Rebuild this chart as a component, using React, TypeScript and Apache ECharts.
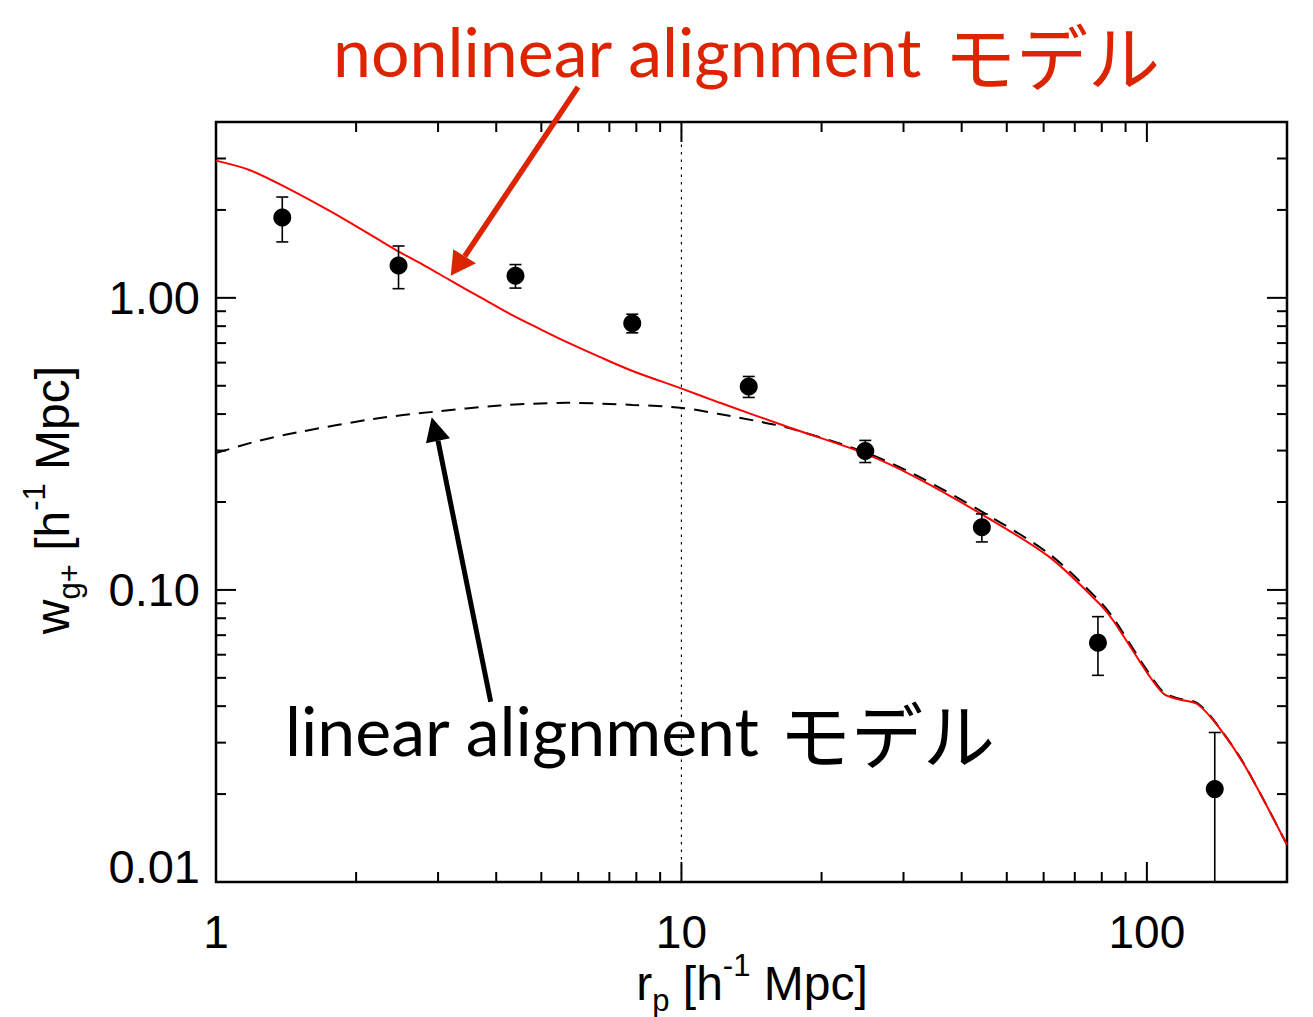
import React, { useEffect, useRef } from "react";
import * as echarts from "echarts";

// Measured projected correlation w_g+ (r_p) with 1-sigma errors
const pointR = [1.388, 2.467, 4.4, 7.84, 13.95, 24.83, 44.2, 78.5, 139.9];
const pointW = [1.884, 1.29, 1.19, 0.819, 0.497, 0.299, 0.164, 0.066, 0.0208];
const pointErr = [0.33, 0.215, 0.11, 0.06, 0.041, 0.026, 0.018, 0.015, 0.0117];

// Nonlinear alignment model curve
const nlaR = [1, 1.18, 1.42, 1.79, 2.18, 2.47, 2.83, 3.18, 3.75, 4.34, 4.96, 5.66, 6.67, 7.85, 10.05, 12.06, 17.05, 24.8, 31.9, 44.3, 61.6, 78.9, 84.5, 100.5, 108.8, 117, 128.3, 142.7, 162.8, 200];
const nlaW = [2.95, 2.74, 2.38, 1.95, 1.62, 1.44, 1.28, 1.15, 0.992, 0.871, 0.783, 0.707, 0.628, 0.562, 0.488, 0.438, 0.36, 0.293, 0.243, 0.181, 0.13, 0.09, 0.0789, 0.0516, 0.044, 0.0422, 0.0407, 0.0339, 0.0248, 0.0134];

// Linear alignment model curve
const laR = [1, 1.231, 1.52, 2.18, 2.92, 4.07, 5.66, 7.85, 10.05, 12.06, 14.7, 17.05, 24.8, 31.9, 44.3, 61.6, 78.9, 84.5, 100.5, 108.8, 117, 128.3, 142.7, 162.8, 200];
const laW = [0.294, 0.3237, 0.348, 0.385, 0.407, 0.428, 0.437, 0.43, 0.42, 0.4, 0.377, 0.358, 0.296, 0.247, 0.185, 0.133, 0.092, 0.0805, 0.0525, 0.0445, 0.0425, 0.041, 0.034, 0.0249, 0.0134];

// Axis ranges, tick labels and tick marks
const xRange = [1, 200];
const yRange = [0.01, 4];
const xTickLabels = [1, 10, 100];
const yTickLabels = [0.01, 0.1, 1];
const xMajorTicks = [10, 100];
const xMinorTicks = [2, 3, 4, 5, 6, 7, 8, 9, 20, 30, 40, 50, 60, 70, 80, 90];
const yMajorTicks = [0.1, 1];
const yMinorTicks = [0.02, 0.03, 0.04, 0.05, 0.06, 0.07, 0.08, 0.09, 0.2, 0.3, 0.4, 0.5, 0.6, 0.7, 0.8, 0.9, 2, 3];
const refLineR = 10;

const MAJOR_LEN = 20;
const MINOR_LEN = 10;
const AXIS_FONT = "'Liberation Sans', Arial, Helvetica, sans-serif";
const LATIN_NOTE_FONT = "Lato, sans-serif";
const JP_NOTE_FONT = "'Noto Sans CJK JP', sans-serif";
const NOTE_RED = "#dc2400";

const near = (v: number, list: number[]) =>
  list.find((t) => Math.abs(Math.log10(v) - Math.log10(t)) < 1e-6);

const titleRich = {
  m: { fontSize: 48, fontFamily: AXIS_FONT, fill: "#000", lineHeight: 66 },
  sub: { fontSize: 31, fontFamily: AXIS_FONT, fill: "#000", lineHeight: 36, verticalAlign: "bottom" },
  sup: { fontSize: 31, fontFamily: AXIS_FONT, fill: "#000", lineHeight: 36, verticalAlign: "top" },
};

// One annotation word run (left aligned, vertically centred on y)
const note = (text: string, x: number, y: number, size: number, family: string, color: string) => ({
  type: "text",
  x,
  y,
  z: 10,
  style: {
    text,
    fontSize: size,
    fontFamily: family,
    fill: color,
    align: "left",
    verticalAlign: "middle",
    textAlign: "left",
    textVerticalAlign: "middle",
  },
});

export default function App() {
  const ref = useRef<HTMLDivElement>(null);

  useEffect(() => {
    if (!ref.current) return;
    const chart = echarts.init(ref.current, null, { renderer: "svg" });

    const xTickData = [
      ...xMajorTicks.map((v) => [v, 1, MAJOR_LEN]),
      ...xMinorTicks.map((v) => [v, 1, MINOR_LEN]),
    ];
    const yTickData = [
      ...yMajorTicks.map((v) => [1, v, MAJOR_LEN]),
      ...yMinorTicks.map((v) => [1, v, MINOR_LEN]),
    ];
    const errData = pointR.map((r, i) => [r, pointW[i], pointW[i] - pointErr[i], pointW[i] + pointErr[i]]);

    const tickStyle = { stroke: "#000", lineWidth: 2 };

    const option: any = {
      animation: false,
      backgroundColor: "#fff",
      grid: {
        left: 216,
        top: 122,
        width: 1071,
        height: 760,
        show: true,
        borderColor: "#000",
        borderWidth: 2.5,
        backgroundColor: "transparent",
      },
      xAxis: {
        type: "log",
        logBase: 10,
        min: xRange[0],
        max: xRange[1],
        axisLine: { show: false },
        axisTick: { show: false },
        splitLine: { show: false },
        axisLabel: {
          show: true,
          showMinLabel: true,
          showMaxLabel: true,
          margin: 27,
          fontSize: 46,
          fontFamily: AXIS_FONT,
          color: "#000",
          formatter: (v: number) => {
            const t = near(v, xTickLabels);
            return t === undefined ? "" : String(t);
          },
        },
      },
      yAxis: {
        type: "log",
        logBase: 10,
        min: yRange[0],
        max: yRange[1],
        axisLine: { show: false },
        axisTick: { show: false },
        splitLine: { show: false },
        axisLabel: {
          show: true,
          showMinLabel: true,
          showMaxLabel: true,
          margin: 16,
          fontSize: 47,
          fontFamily: AXIS_FONT,
          color: "#000",
          formatter: (v: number) => {
            const t = near(v, yTickLabels);
            if (t === undefined) return "";
            if (t === yRange[0]) return "{low|" + t.toFixed(2) + "}";
            return t.toFixed(2);
          },
          rich: {
            low: { fontSize: 47, fontFamily: AXIS_FONT, color: "#000", padding: [0, 0, 32, 0] },
          },
        },
      },
      series: [
        {
          // dotted reference line at r_p = 10
          type: "line",
          data: [[refLineR, yRange[0]], [refLineR, yRange[1]]],
          symbol: "none",
          lineStyle: { color: "#000", width: 1.2, type: [2.5, 5] },
          silent: true,
          z: 1,
        },
        {
          type: "line",
          name: "linear alignment",
          data: laR.map((r, i) => [r, laW[i]]),
          symbol: "none",
          smooth: 0.3,
          lineStyle: { color: "#000", width: 2, type: [14, 9] },
          silent: true,
          z: 2,
        },
        {
          type: "line",
          name: "nonlinear alignment",
          data: nlaR.map((r, i) => [r, nlaW[i]]),
          symbol: "none",
          smooth: 0.3,
          lineStyle: { color: "#ff0000", width: 2 },
          silent: true,
          z: 3,
        },
        {
          // error bars
          type: "custom",
          data: errData,
          encode: { x: 0, y: 1 },
          silent: true,
          z: 4,
          renderItem: (params: any, api: any) => {
            const cs = params.coordSys;
            const bottom = cs.y + cs.height;
            const x = api.value(0);
            const top = api.coord([x, api.value(3)]);
            let lowY = api.coord([x, Math.max(api.value(2), 1e-6)])[1];
            const clipped = !(api.value(2) > yRange[0]) || lowY > bottom;
            if (clipped) lowY = bottom;
            const px = top[0];
            const cap = 6;
            const st = { stroke: "#000", lineWidth: 1.6 };
            const children: any[] = [
              { type: "line", shape: { x1: px, y1: top[1], x2: px, y2: lowY }, style: st },
              { type: "line", shape: { x1: px - cap, y1: top[1], x2: px + cap, y2: top[1] }, style: st },
            ];
            if (!clipped) {
              children.push({ type: "line", shape: { x1: px - cap, y1: lowY, x2: px + cap, y2: lowY }, style: st });
            }
            return { type: "group", children };
          },
        },
        {
          type: "scatter",
          data: pointR.map((r, i) => [r, pointW[i]]),
          symbol: "circle",
          symbolSize: 18,
          itemStyle: { color: "#000", opacity: 1 },
          silent: true,
          z: 5,
        },
        {
          // ticks on bottom and top edges
          type: "custom",
          data: xTickData,
          encode: { x: 0, y: 1 },
          silent: true,
          z: 6,
          renderItem: (params: any, api: any) => {
            const cs = params.coordSys;
            const px = api.coord([api.value(0), 1])[0];
            const len = api.value(2);
            const b = cs.y + cs.height;
            return {
              type: "group",
              children: [
                { type: "line", shape: { x1: px, y1: b, x2: px, y2: b - len }, style: tickStyle },
                { type: "line", shape: { x1: px, y1: cs.y, x2: px, y2: cs.y + len }, style: tickStyle },
              ],
            };
          },
        },
        {
          // ticks on left and right edges
          type: "custom",
          data: yTickData,
          encode: { x: 0, y: 1 },
          silent: true,
          z: 6,
          renderItem: (params: any, api: any) => {
            const cs = params.coordSys;
            const py = api.coord([1, api.value(1)])[1];
            const len = api.value(2);
            const r = cs.x + cs.width;
            return {
              type: "group",
              children: [
                { type: "line", shape: { x1: cs.x, y1: py, x2: cs.x + len, y2: py }, style: tickStyle },
                { type: "line", shape: { x1: r, y1: py, x2: r - len, y2: py }, style: tickStyle },
              ],
            };
          },
        },
      ],
      graphic: [
        // x axis title
        {
          type: "text",
          x: 752,
          y: 983,
          style: {
            text: "{m|r}{sub|p}{m| [h}{sup|-1}{m| Mpc]}",
            align: "center",
            verticalAlign: "middle",
            textAlign: "center",
            textVerticalAlign: "middle",
            rich: titleRich,
          },
        },
        // y axis title
        {
          type: "text",
          x: 52,
          y: 500,
          rotation: Math.PI / 2,
          style: {
            text: "{m|w}{sub|g+}{m| [h}{sup|-1}{m| Mpc]}",
            align: "center",
            verticalAlign: "middle",
            textAlign: "center",
            textVerticalAlign: "middle",
            rich: titleRich,
          },
        },
        // nonlinear alignment note and arrow
        note("nonlinear alignment", 333, 50, 68, LATIN_NOTE_FONT, NOTE_RED),
        note("モデル", 944, 53, 72, JP_NOTE_FONT, NOTE_RED),
        {
          type: "line",
          z: 10,
          shape: { x1: 578, y1: 87, x2: 464.7, y2: 256.3 },
          style: { stroke: NOTE_RED, lineWidth: 5.5 },
        },
        {
          type: "polygon",
          z: 10,
          shape: { points: [[450.7, 275.7], [453.3, 249.3], [476, 263.3]] },
          style: { fill: NOTE_RED },
        },
        // linear alignment note and arrow
        note("linear alignment", 285, 729, 68, LATIN_NOTE_FONT, "#000"),
        note("モデル", 779, 731, 72, JP_NOTE_FONT, "#000"),
        {
          type: "line",
          z: 10,
          shape: { x1: 490.7, y1: 701.7, x2: 438, y2: 440.8 },
          style: { stroke: "#000", lineWidth: 5 },
        },
        {
          type: "polygon",
          z: 10,
          shape: { points: [[431.7, 417.3], [426, 443.3], [450, 438.3]] },
          style: { fill: "#000" },
        },
      ],
    };

    chart.setOption(option);
    return () => chart.dispose();
  }, []);

  return (
    <div
      ref={ref}
      style={{ position: "fixed", left: 0, top: 0, width: 1313, height: 1017, background: "#fff" }}
    />
  );
}
